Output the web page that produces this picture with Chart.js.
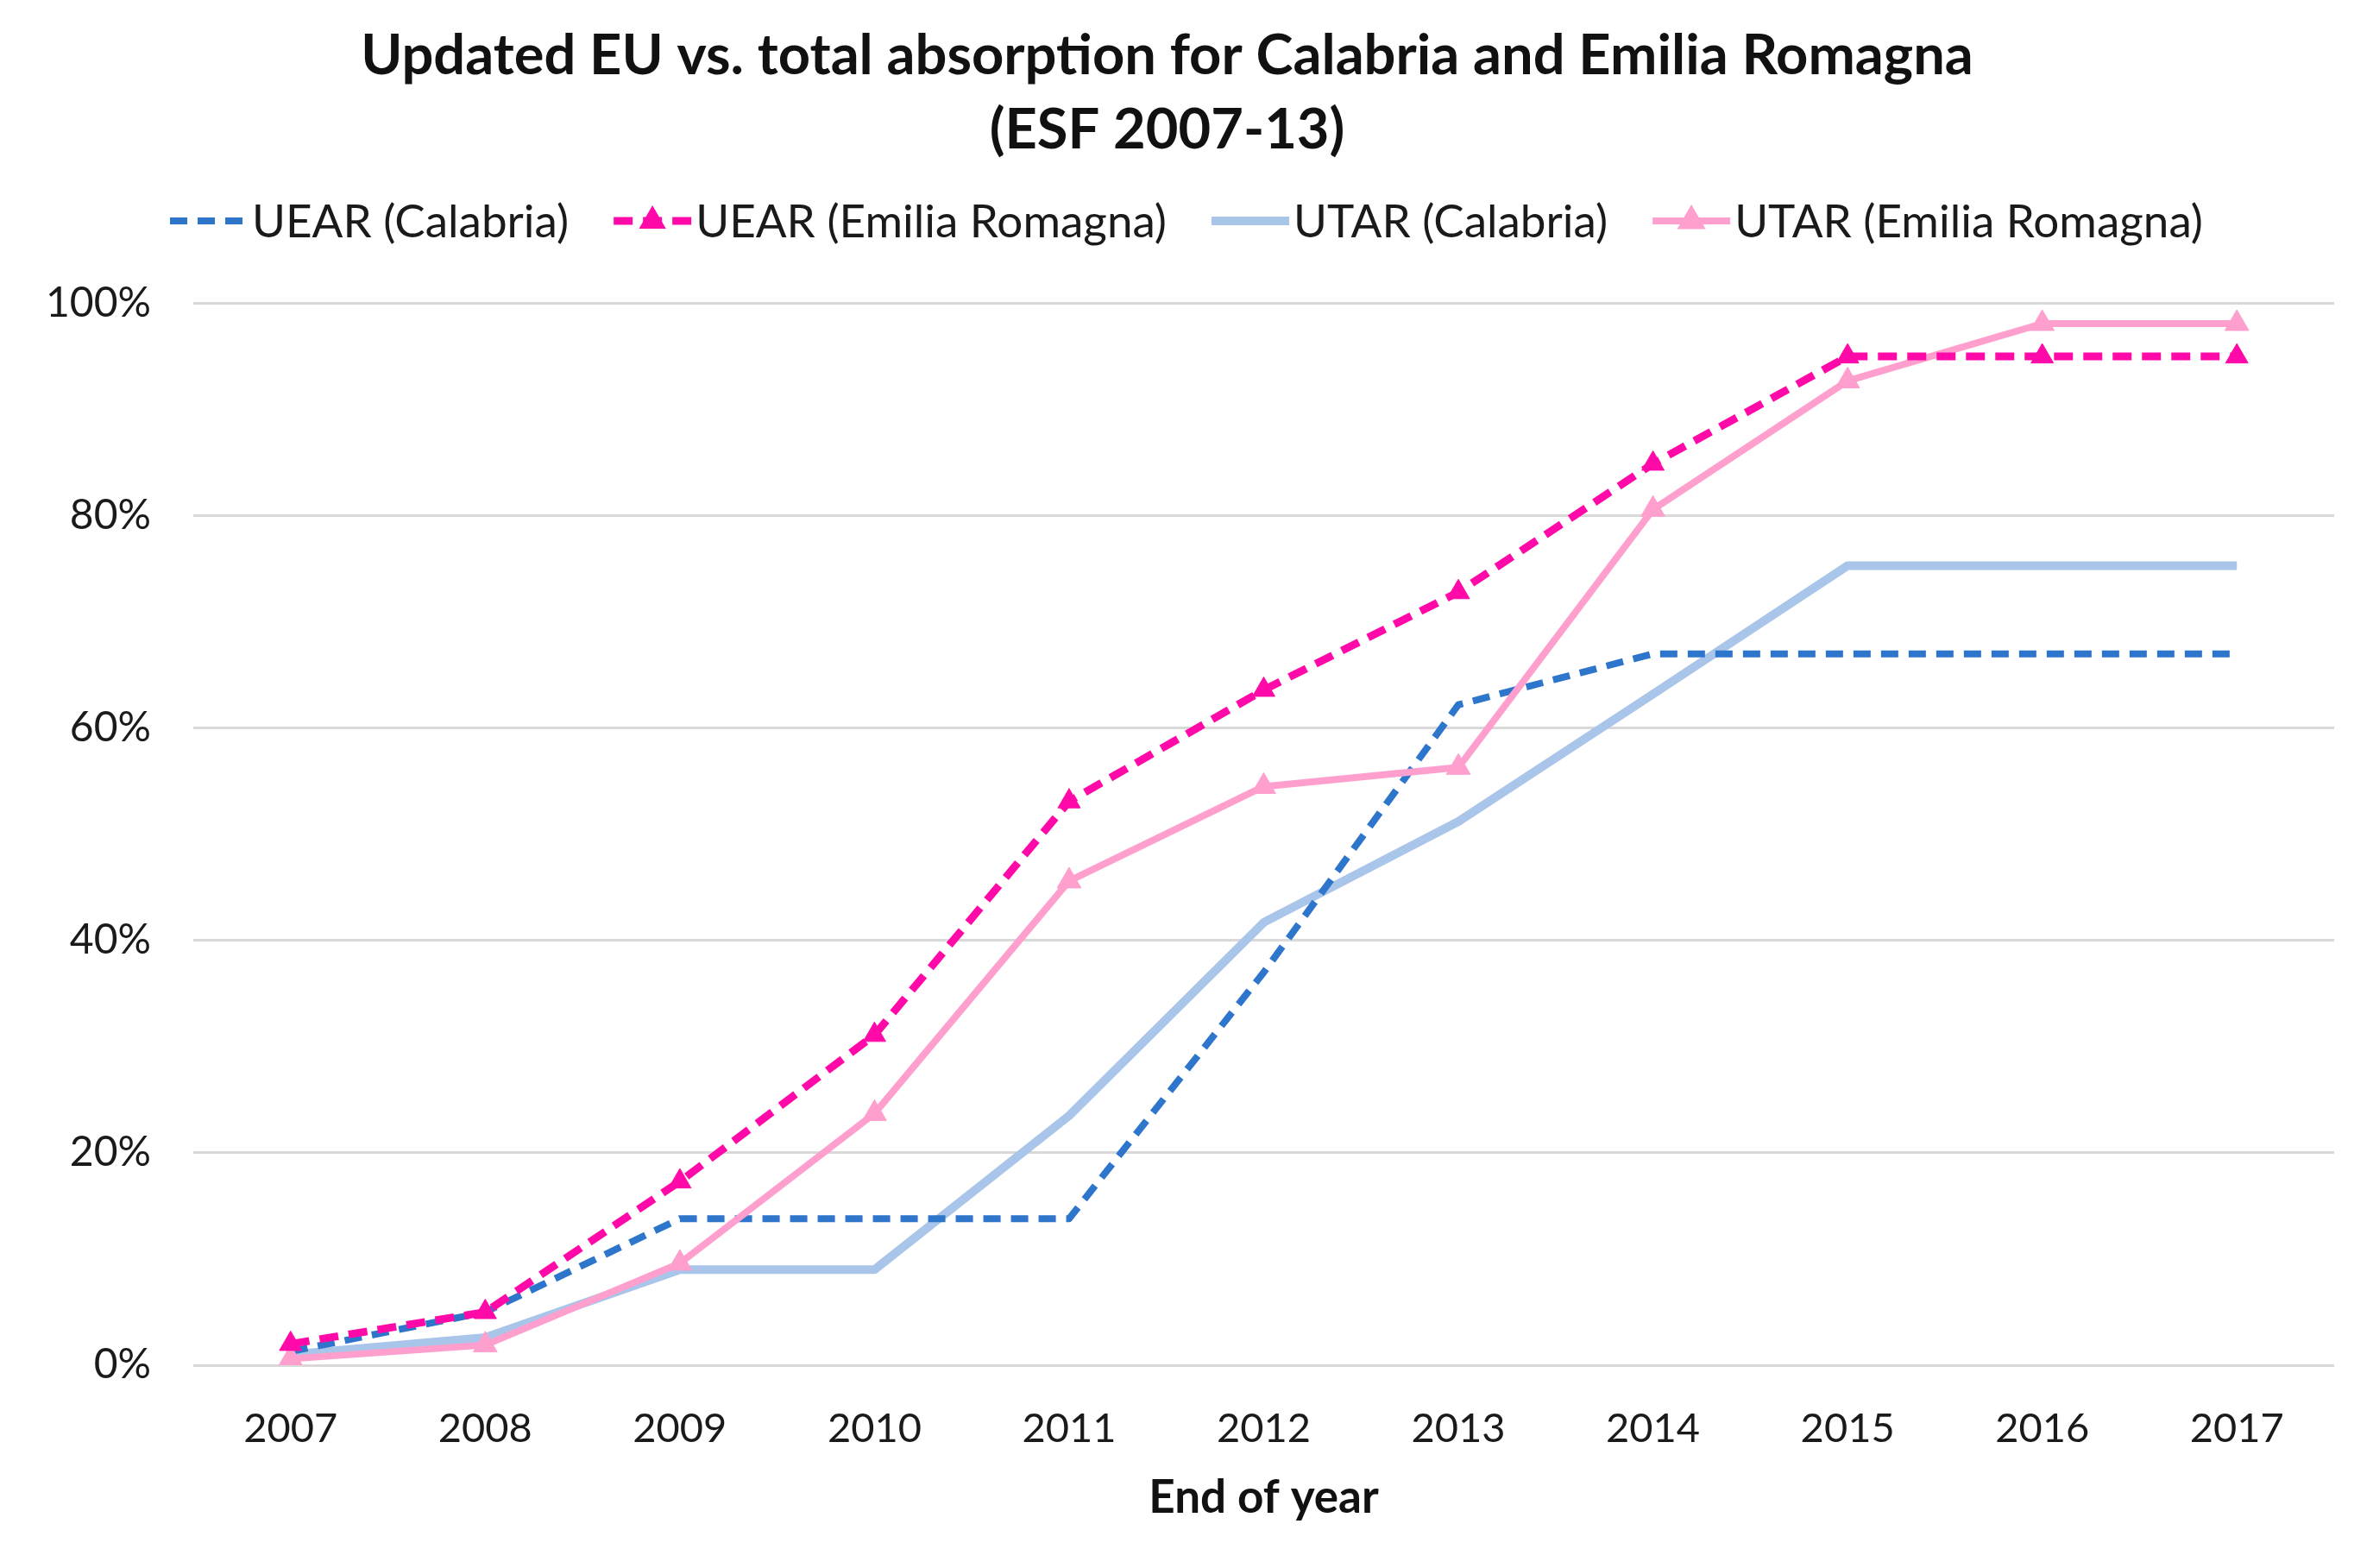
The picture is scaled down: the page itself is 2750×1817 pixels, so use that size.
<!DOCTYPE html>
<html>
<head>
<meta charset="utf-8">
<script src="https://cdn.jsdelivr.net/npm/chart.js@4.4.1/dist/chart.umd.min.js"></script>
<style>
  html, body { margin: 0; padding: 0; background: #fff; }
  #wrap { width: 2750px; height: 1817px; }
</style>
</head>
<body>
<div id="wrap"><canvas id="absorption"></canvas></div>
<script>
// years on the x axis
const years = ['2007', '2008', '2009', '2010', '2011', '2012', '2013', '2014', '2015', '2016', '2017'];

// absorption rates, in %
const uearCalabria = [1.3, 5.0, 13.8, 13.8, 13.8, 37.0, 62.2, 67.0, 67.0, 67.0, 67.0];
const uearEmilia   = [2.0, 5.0, 17.3, 31.1, 53.1, 63.6, 72.8, 84.9, 95.0, 95.0, 95.0];
const utarCalabria = [1.0, 2.6, 9.0, 9.0, 23.5, 41.7, 51.2, 63.2, 75.3, 75.3, 75.3];
const utarEmilia   = [0.6, 1.9, 9.6, 23.7, 45.6, 54.5, 56.3, 80.6, 92.7, 98.1, 98.1];

const seriesNames = ['UEAR (Calabria)', 'UEAR (Emilia Romagna)', 'UTAR (Calabria)', 'UTAR (Emilia Romagna)'];
const yTicks = [0, 20, 40, 60, 80, 100];

const FONT = 'Lato, Carlito, Calibri, sans-serif';

// legend drawn by hand so the line + marker sample looks like the original
const lineLegend = {
    id: 'lineLegend',
    afterDraw(chart) {
        const ctx = chart.ctx;
        const y = 256;
        const sample = 90, gap = 5, between = 52;
        ctx.save();
        ctx.font = '53px ' + FONT;
        ctx.textBaseline = 'middle';
        const items = chart.data.datasets.map(ds => ({ ds: ds, w: ctx.measureText(ds.label).width }));
        let total = 0;
        items.forEach((it, i) => { total += sample + gap + it.w + (i ? between : 0); });
        let x = chart.width / 2 - total / 2;
        items.forEach((it) => {
            const ds = it.ds;
            ctx.strokeStyle = ds.borderColor;
            ctx.lineWidth = ds.borderWidth;
            ctx.setLineDash(ds.borderDash || []);
            ctx.beginPath();
            ctx.moveTo(x, y);
            ctx.lineTo(x + sample, y);
            ctx.stroke();
            ctx.setLineDash([]);
            if (ds.pointRadius > 0) {
                const r = ds.pointRadius + 3;
                const cx = x + sample / 2;
                ctx.fillStyle = ds.pointBackgroundColor;
                ctx.beginPath();
                ctx.moveTo(cx, y - r);
                ctx.lineTo(cx + r * 0.87, y + r * 0.5);
                ctx.lineTo(cx - r * 0.87, y + r * 0.5);
                ctx.closePath();
                ctx.fill();
            }
            ctx.fillStyle = '#1a1a1a';
            ctx.fillText(ds.label, x + sample + gap, y + 2);
            x += sample + gap + it.w + between;
        });
        ctx.restore();
    }
};

const ctxAbs = document.getElementById('absorption');
new Chart(ctxAbs, {
    type: 'line',
    data: {
        labels: years,
        datasets: [{
            label: seriesNames[0],
            data: uearCalabria,
            borderColor: '#2E75CC',
            borderWidth: 8,
            borderDash: [20, 12],
            pointRadius: 0,
            order: 2
        }, {
            label: seriesNames[1],
            data: uearEmilia,
            borderColor: '#FF0AA8',
            borderWidth: 9,
            borderDash: [22, 12],
            pointStyle: 'triangle',
            pointRadius: 15,
            pointBackgroundColor: '#FF0AA8',
            pointBorderColor: '#FF0AA8',
            pointBorderWidth: 1,
            order: 0
        }, {
            label: seriesNames[2],
            data: utarCalabria,
            borderColor: '#A9C5EA',
            borderWidth: 10,
            pointRadius: 0,
            order: 3
        }, {
            label: seriesNames[3],
            data: utarEmilia,
            borderColor: '#FF9FCE',
            borderWidth: 8,
            pointStyle: 'triangle',
            pointRadius: 16,
            pointBackgroundColor: '#FF9FCE',
            pointBorderColor: '#FF9FCE',
            pointBorderWidth: 1,
            order: 1
        }]
    },
    options: {
        responsive: true,
        maintainAspectRatio: false,
        devicePixelRatio: 1,
        animation: false,
        layout: { padding: { left: 0, right: 45, top: 0, bottom: 0 } },
        elements: { line: { tension: 0, borderJoinStyle: 'round' } },
        plugins: {
            legend: { display: false },
            tooltip: { enabled: false },
            title: {
                display: true,
                text: ['Updated EU vs. total absorption for Calabria and Emilia Romagna', '(ESF 2007-13)'],
                color: '#111',
                font: { family: FONT, size: 65, weight: 'bold', lineHeight: 1.32 },
                padding: { top: 22, bottom: 158 }
            }
        },
        scales: {
            x: {
                offset: true,
                grid: { display: false, drawTicks: false },
                border: { display: false },
                ticks: { color: '#1a1a1a', font: { family: FONT, size: 47 }, padding: 46 },
                title: {
                    display: true,
                    text: 'End of year',
                    color: '#111',
                    font: { family: FONT, size: 53, weight: 'bold' },
                    padding: { top: 0, bottom: 49 }
                },
                afterFit: (scale) => { scale.height = 235; }
            },
            y: {
                min: 0,
                max: 100,
                afterBuildTicks: (scale) => { scale.ticks = yTicks.map(v => ({ value: v })); },
                grid: { color: '#d9d9d9', lineWidth: 3, drawTicks: false },
                border: { display: false },
                ticks: {
                    color: '#1a1a1a',
                    font: { family: FONT, size: 48 },
                    padding: 49,
                    callback: (v) => v + '%'
                },
                afterFit: (scale) => { scale.width = 224; }
            }
        }
    },
    plugins: [lineLegend]
});
</script>
</body>
</html>
